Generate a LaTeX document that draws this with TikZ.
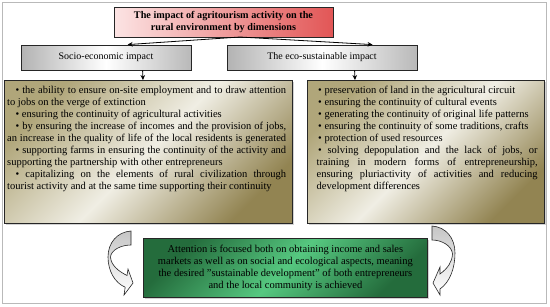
\documentclass[tikz,border=0pt]{standalone}
\usepackage{fontspec}
\setmainfont{Liberation Serif}
\usetikzlibrary{arrows.meta,shadows,calc}
\definecolor{khakiD}{RGB}{146,132,82}
\definecolor{khakiM}{RGB}{176,166,122}
\definecolor{khakiL}{RGB}{240,238,228}
\definecolor{greenD}{RGB}{36,108,60}
\definecolor{greenL}{RGB}{86,200,128}
\definecolor{redL}{RGB}{252,228,228}
\definecolor{redD}{RGB}{226,86,86}
\newcommand\JL[2]{\makebox[#1][s]{\strut #2}}
\newcommand\LL[2]{\makebox[#1][l]{\strut #2}}
\begin{document}
\begin{tikzpicture}[x=1pt,y=-1pt,
  boxline/.style={draw=black!85, line width=0.8pt, inner sep=0pt},
  shad/.style={drop shadow={opacity=0.35,shadow xshift=1.2pt,shadow yshift=-1.2pt}},
  titlebox/.style={boxline, shad, left color=redL, right color=redD,
    align=center, font=\bfseries\fontsize{10.2}{11.7}\selectfont},
  greybox/.style={boxline, shad, left color=gray!60, right color=gray!55, middle color=white,
    font=\fontsize{10}{11.7}\selectfont},
  khakibox/.style={boxline, shad, top color=khakiM, bottom color=khakiD, middle color=khakiL, shading angle=45},
  greenbox/.style={boxline, shad, top color=greenD, bottom color=greenD, middle color=greenL, shading angle=45,
    align=center, font=\fontsize{10.5}{11.95}\selectfont},
  txt/.style={inner sep=0pt, align=left, font=\fontsize{10.5}{11.95}\selectfont},
  arr/.style={-{Stealth[length=5pt,width=4.5pt]}, line width=0.8pt, black},
  curvearrow/.style={draw=black!85, line width=0.6pt, top color=gray!45, bottom color=white}
]
\fill[white] (0,0) rectangle (550,306);
\useasboundingbox (0,0) rectangle (550,306);
\draw[gray!55, line width=1pt] (2,2) rectangle (546,303);

% title
\node[titlebox, minimum width=219pt, minimum height=30pt] (title) at (223.5,22)
  {The impact of agritourism activity on the\\rural environment by dimensions};
\coordinate (tsrc) at (240,37);

% dimension boxes
\node[greybox, minimum width=170pt, minimum height=25pt] (socio) at (106,57.5) {Socio-economic impact};
\node[greybox, minimum width=190pt, minimum height=25pt] (eco) at (322,57.5) {The eco-sustainable impact};

% content boxes
\node[khakibox, minimum width=288pt, minimum height=143pt, anchor=north west] (leftbox) at (4,80) {};
\node[khakibox, minimum width=237pt, minimum height=143pt, anchor=north west] (rightbox) at (307,80) {};

\node[txt, anchor=north west] (ltext) at (7,85) {%
\JL{279pt}{\hspace*{8.5pt}• the ability to ensure on-site employment and to draw attention}\\
\LL{279pt}{to jobs on the verge of extinction}\\
\LL{279pt}{\hspace*{8.5pt}• ensuring the continuity of agricultural activities}\\
\JL{279pt}{\hspace*{8.5pt}• by ensuring the increase of incomes and the provision of jobs,}\\
\JL{279pt}{an increase in the quality of life of the local residents is generated}\\
\JL{279pt}{\hspace*{8.5pt}• supporting farms in ensuring the continuity of the activity and}\\
\LL{279pt}{supporting the partnership with other entrepreneurs}\\
\JL{279pt}{\hspace*{8.5pt}• capitalizing on the elements of rural civilization through}\\
\LL{279pt}{tourist activity and at the same time supporting their continuity}};

\node[txt, anchor=north west] (rtext) at (316.5,85) {%
\LL{221pt}{\hspace*{1.5pt}• preservation of land in the agricultural circuit}\\
\LL{221pt}{\hspace*{1.5pt}• ensuring the continuity of cultural events}\\
\LL{221pt}{\hspace*{1.5pt}• generating the continuity of original life patterns}\\
\LL{221pt}{\hspace*{1.5pt}• ensuring the continuity of some traditions, crafts}\\
\LL{221pt}{\hspace*{1.5pt}• protection of used resources}\\
\JL{221pt}{\hspace*{1.5pt}• solving depopulation and the lack of jobs, or}\\
\JL{221pt}{training in modern forms of entrepreneurship,}\\
\JL{221pt}{ensuring pluriactivity of activities and reducing}\\
\LL{221pt}{development differences}};

% result box
\node[greenbox, minimum width=284pt, minimum height=59pt, anchor=north west] (result) at (143,238)
  {\strut Attention is focused both on obtaining income and sales\\
   \strut markets as well as on social and ecological aspects, meaning\\
   \strut the desired "sustainable development" of both entrepreneurs\\
   \strut and the local community is achieved};

% connectors
\draw[arr] (tsrc) -- ($(socio.north west)+(107,0)$);
\draw[arr] (tsrc) -- ($(eco.north west)+(146,0)$);
\draw[arr] ($(socio.south west)+(122,0)$) -- ($(leftbox.north west)+(139,0)$);
\draw[arr] ($(eco.south west)+(128,0)$) -- ($(rightbox.north west)+(48,0)$);

% curved block arrows
\path[curvearrow] (131,231) .. controls (117,232) and (108,243) .. (108,257)
  .. controls (108,271) and (115,283) .. (125.2,287.2) -- (124,295) -- (133,283)
  -- (128,269) -- (127,275.5) .. controls (118,271) and (111,265) .. (110.5,257)
  .. controls (111,250) and (121,245) .. (131,245) -- cycle;
\path[curvearrow] (432,226) .. controls (446,227) and (455,238) .. (455,253)
  .. controls (455,268) and (450,282) .. (440,289) -- (440,295) -- (433,283)
  -- (440,267) -- (440,274) .. controls (448,268) and (452,262) .. (452.5,254)
  .. controls (452,246) and (442,240) .. (432,240) -- cycle;
\end{tikzpicture}
\end{document}
